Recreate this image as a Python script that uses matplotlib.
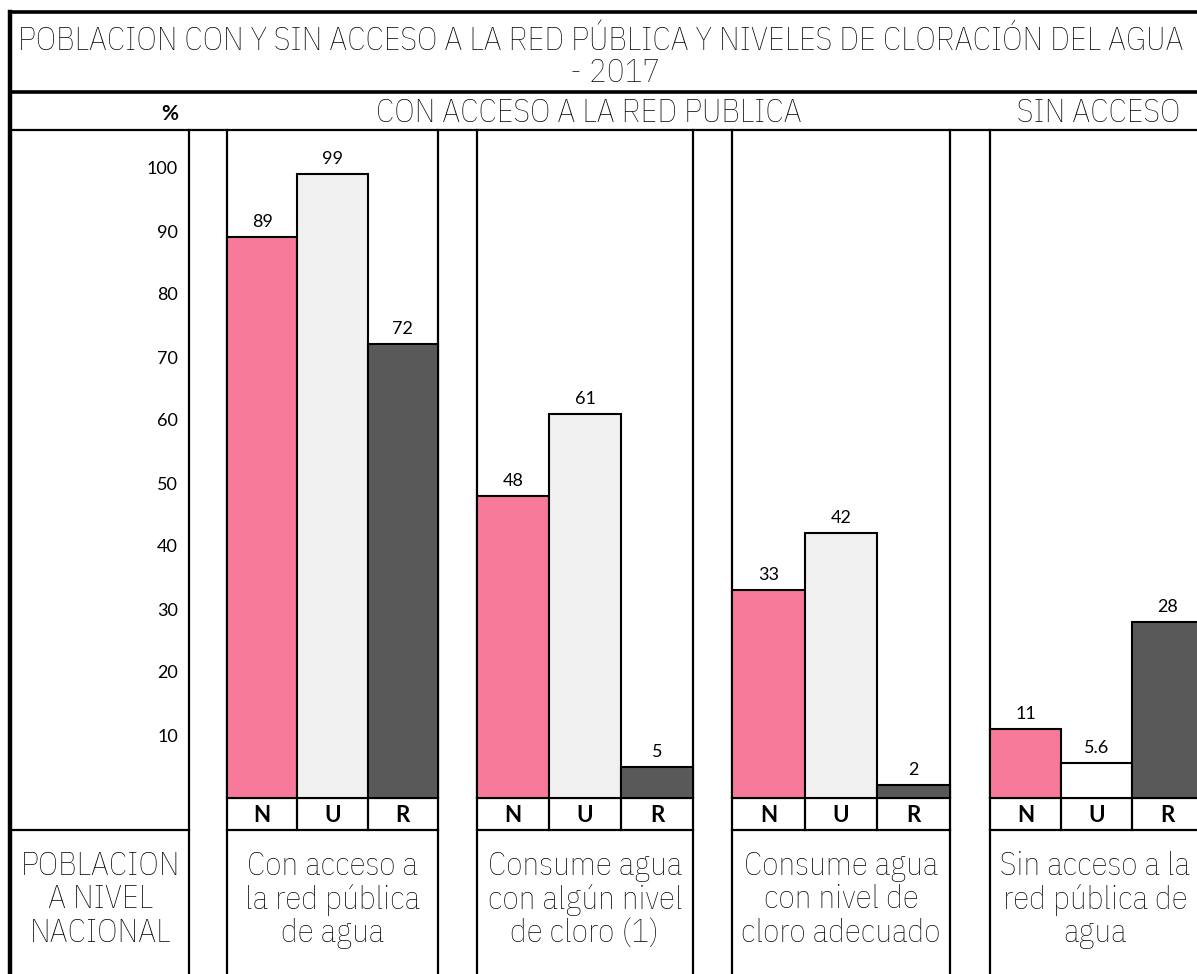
import matplotlib.pyplot as plt
from matplotlib import font_manager
from matplotlib.font_manager import FontProperties

W, H = 1197, 974

# data
CATEGORIES = [
    "Con acceso a\nla red pública\nde agua",
    "Consume agua\ncon algún nivel\nde cloro (1)",
    "Consume agua\ncon nivel de\ncloro adecuado",
    "Sin acceso a la\nred pública de\nagua",
]
AREAS = ["N", "U", "R"]
NACIONAL = [89, 48, 33, 11]
URBANO = [99, 61, 42, 5.6]
RURAL = [72, 5, 2, 28]
Y_TICKS = [10, 20, 30, 40, 50, 60, 70, 80, 90, 100]

TITLE_1 = "POBLACION CON Y SIN ACCESO A LA RED PÚBLICA Y NIVELES DE CLORACIÓN DEL AGUA"
TITLE_2 = "- 2017"

PINK = "#f77a9a"
LIGHT = "#f0f0f0"
DARK = "#595959"
WHITE = "#ffffff"

BODY = ["Lato", "DejaVu Sans"]


def _weight(f):
    if isinstance(f.weight, int):
        return f.weight
    return font_manager.weight_dict.get(f.weight, 400)


def _heading_file():
    # thin, preferably narrow face for the headings
    fonts = font_manager.fontManager.ttflist
    narrow = [f for f in fonts
              if any(k in f.name for k in ("Narrow", "Condensed")) and _weight(f) <= 400]
    if narrow:
        return min(narrow, key=_weight).fname
    light = [f for f in fonts
             if f.name.split()[0] in ("Roboto", "Lato", "Open", "Inter", "Noto")
             and "CJK" not in f.name and "Mono" not in f.name
             and _weight(f) <= 300 and f.style == "normal"]
    if light:
        return max(light, key=_weight).fname
    return font_manager.findfont("DejaVu Sans")


HEAD_FILE = _heading_file()


def head(size):
    return FontProperties(fname=HEAD_FILE, size=size)


# layout in pixels (y grows downward)
GROUPS = [(227, 438), (477, 693), (732, 950), (990, 1203)]
LEFT_COL = (10, 189)
Y_TOP, Y_BASE, Y_LABEL, Y_BOTTOM = 130, 798, 830, 974
PX_PER_UNIT = 6.3
TITLE_WIDTH = 1163

fig = plt.figure(figsize=(W / 100, H / 100), dpi=100, facecolor="white")

# table frame
ax_t = fig.add_axes([0, 0, 1, 1])
ax_t.set_xlim(0, W)
ax_t.set_ylim(H, 0)
ax_t.axis("off")

thick, thin = 2.6, 1.6
ax_t.plot([10, W], [12, 12], color="black", lw=thick)
ax_t.plot([10, W], [92, 92], color="black", lw=thick)
ax_t.plot([10, W], [Y_TOP, Y_TOP], color="black", lw=thin)
ax_t.plot([10, 10], [12, H], color="black", lw=3.2)
ax_t.plot([LEFT_COL[0], LEFT_COL[1]], [Y_LABEL, Y_LABEL], color="black", lw=thin)
ax_t.plot([LEFT_COL[1], LEFT_COL[1]], [Y_TOP, H], color="black", lw=thin)
for x0, x1 in GROUPS:
    for x in (x0, x1):
        ax_t.plot([x, x], [Y_TOP, H], color="black", lw=thin)
    ax_t.plot([x0, x1], [Y_BASE, Y_BASE], color="black", lw=thin)
    ax_t.plot([x0, x1], [Y_LABEL, Y_LABEL], color="black", lw=thin)
    w = (x1 - x0) / 3
    for i, a in enumerate(AREAS):
        if i > 0:
            ax_t.plot([x0 + i * w] * 2, [Y_BASE, Y_LABEL], color="black", lw=thin)
        ax_t.text(x0 + (i + 0.5) * w, (Y_BASE + Y_LABEL) / 2 + 1, a, ha="center",
                  va="center", fontsize=16, fontweight="bold", family=BODY)

# size the heading font so the first title line fills the header box
title = ax_t.text(601, 42, TITLE_1, ha="center", va="center", fontproperties=head(20))
renderer = fig.canvas.get_renderer()
hs = 20 * TITLE_WIDTH / title.get_window_extent(renderer).width
title.set_fontproperties(head(hs))

ax_t.text(615, 73, TITLE_2, ha="center", va="center", fontproperties=head(hs))
ax_t.text(170, 114, "%", ha="center", va="center", fontsize=15, fontweight="bold", family=BODY)
ax_t.text(589, 114, "CON ACCESO A LA RED PUBLICA", ha="center", va="center",
          fontproperties=head(hs))
ax_t.text(1099, 114, "SIN ACCESO", ha="center", va="center", fontproperties=head(hs))

ax_t.text(100, 900, "POBLACION\nA NIVEL\nNACIONAL", ha="center", va="center",
          fontproperties=head(hs), linespacing=1.1)
for (x0, x1), cat in zip(GROUPS, CATEGORIES):
    cx = (x0 + x1) / 2 if x1 <= W else 1095
    ax_t.text(cx, 900, cat, ha="center", va="center", fontproperties=head(hs),
              linespacing=1.1)

# bars
ax = fig.add_axes([LEFT_COL[1] / W, (H - Y_BASE) / H,
                   (W - LEFT_COL[1]) / W, (Y_BASE - Y_TOP) / H])
ax.patch.set_alpha(0)
ax.set_xlim(LEFT_COL[1], W)
ax.set_ylim(0, (Y_BASE - Y_TOP) / PX_PER_UNIT)
for s in ax.spines.values():
    s.set_visible(False)
ax.set_xticks([])
ax.set_yticks(Y_TICKS)
ax.set_yticklabels([str(t) for t in Y_TICKS], family=BODY, fontsize=13)
ax.tick_params(axis="y", length=0, pad=8)

for g, (x0, x1) in enumerate(GROUPS):
    w = (x1 - x0) / 3
    vals = [NACIONAL[g], URBANO[g], RURAL[g]]
    cols = [PINK, WHITE if g == 3 else LIGHT, DARK]
    for i, (v, c) in enumerate(zip(vals, cols)):
        cx = x0 + (i + 0.5) * w
        ax.bar(cx, v, width=w, color=c, edgecolor="black", linewidth=1.5)
        ax.annotate(f"{v:g}", xy=(cx, v), xytext=(0, 5), textcoords="offset points",
                    ha="center", va="bottom", fontsize=13, family=BODY)

fig.savefig("out.png", dpi=100, facecolor="white")
